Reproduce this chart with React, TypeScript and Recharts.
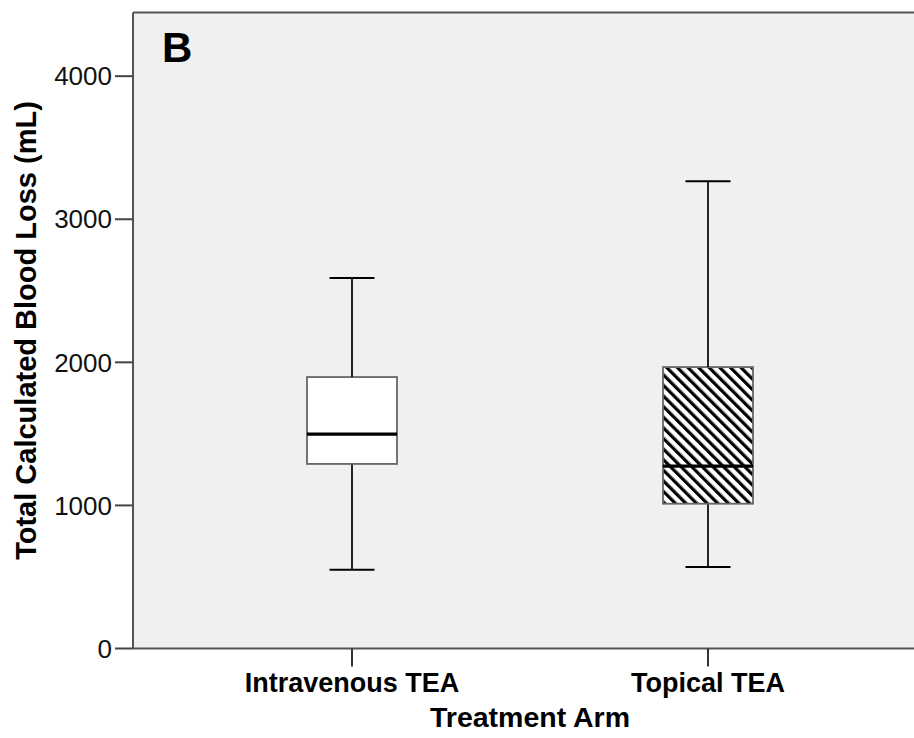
import { ComposedChart, Bar, XAxis, YAxis, CartesianGrid, ReferenceLine } from "recharts";

// box plot values (mL)
const categories = ["Intravenous TEA", "Topical TEA"];
const whiskerLow = [550, 570];
const quartile1 = [1290, 1012];
const medians = [1500, 1276];
const quartile3 = [1897, 1967];
const whiskerHigh = [2590, 3265];
const yTicks = [0, 1000, 2000, 3000, 4000];
const yMax = 4445;

const boxFills = ["#ffffff", "url(#hatch)"];
const font = '"Liberation Sans", Arial, Helvetica, sans-serif';

// stacked segments: invisible base, lower whisker, lower box, upper box, upper whisker
const data = categories.map((name, i) => ({
  name,
  base: whiskerLow[i],
  lowWhisker: quartile1[i] - whiskerLow[i],
  lowBox: medians[i] - quartile1[i],
  highBox: quartile3[i] - medians[i],
  highWhisker: whiskerHigh[i] - quartile3[i],
}));

const Whisker = (props: any) => {
  const { x, y, width, height, capAtTop } = props;
  const cx = x + width / 2;
  const cap = width / 4;
  const capY = capAtTop ? y : y + height;
  return (
    <g>
      <line x1={cx} y1={y} x2={cx} y2={y + height} stroke="#000" strokeWidth={1.7} />
      <line x1={cx - cap} y1={capY} x2={cx + cap} y2={capY} stroke="#000" strokeWidth={2} />
    </g>
  );
};

const BoxPart = (props: any) => {
  const { x, y, width, height, index, medianAtTop } = props;
  const my = medianAtTop ? y : y + height;
  return (
    <g>
      <rect
        x={x}
        y={y}
        width={width}
        height={height}
        fill={boxFills[index]}
        stroke="#666"
        strokeWidth={1.8}
      />
      <line x1={x} y1={my} x2={x + width} y2={my} stroke="#000" strokeWidth={3} />
    </g>
  );
};

const axisLine = { stroke: "#555", strokeWidth: 2 };

const App = () => {
  return (
    <div
      style={{
        position: "absolute",
        left: 0,
        top: 0,
        width: 914,
        height: 738,
        overflow: "hidden",
        background: "#fff",
        fontFamily: font,
      }}
    >
      <ComposedChart
        width={940}
        height={738}
        data={data}
        margin={{ top: 12.5, right: 13, bottom: 0, left: 0 }}
        style={{ fontFamily: font }}
      >
        <defs>
          <pattern
            id="hatch"
            patternUnits="userSpaceOnUse"
            width={7.5}
            height={7.5}
            patternTransform="rotate(-45)"
          >
            <rect width={7.5} height={7.5} fill="#fff" />
            <rect x={0} y={0} width={3.2} height={7.5} fill="#000" />
          </pattern>
        </defs>
        <CartesianGrid fill="#f0f0f0" horizontal={false} vertical={false} />
        <XAxis
          dataKey="name"
          padding={{ left: 41, right: 41 }}
          height={89.5}
          interval={0}
          tickSize={18}
          tickMargin={6}
          axisLine={axisLine}
          tickLine={{ stroke: "#333", strokeWidth: 2 }}
          tick={{ fill: "#000", fontSize: 27, fontWeight: "bold" }}
          label={{
            value: "Treatment Arm",
            position: "insideBottom",
            offset: 11,
            fontSize: 28.5,
            fontWeight: "bold",
            fill: "#000",
          }}
        />
        <YAxis
          type="number"
          domain={[0, yMax]}
          ticks={yTicks}
          allowDataOverflow
          width={133}
          tickSize={18}
          tickMargin={3}
          axisLine={axisLine}
          tickLine={{ stroke: "#444", strokeWidth: 2 }}
          tick={{ fill: "#111", fontSize: 26 }}
          label={{
            value: "Total Calculated Blood Loss (mL)",
            angle: -90,
            position: "center",
            dx: -40.5,
            fontSize: 29,
            fontWeight: "bold",
            fill: "#000",
          }}
        />
        <ReferenceLine y={yMax} stroke="#555" strokeWidth={2} ifOverflow="visible" />
        <Bar dataKey="base" stackId="box" barSize={90} fill="none" isAnimationActive={false} />
        <Bar
          dataKey="lowWhisker"
          stackId="box"
          barSize={90}
          isAnimationActive={false}
          shape={(p: any) => <Whisker {...p} capAtTop={false} />}
        />
        <Bar
          dataKey="lowBox"
          stackId="box"
          barSize={90}
          isAnimationActive={false}
          shape={(p: any) => <BoxPart {...p} medianAtTop />}
        />
        <Bar
          dataKey="highBox"
          stackId="box"
          barSize={90}
          isAnimationActive={false}
          shape={(p: any) => <BoxPart {...p} medianAtTop={false} />}
        />
        <Bar
          dataKey="highWhisker"
          stackId="box"
          barSize={90}
          isAnimationActive={false}
          shape={(p: any) => <Whisker {...p} capAtTop />}
        />
        <text x={162} y={62} fontSize={42} fontWeight="bold" fill="#000" fontFamily={font}>
          B
        </text>
      </ComposedChart>
    </div>
  );
};

export default App;
